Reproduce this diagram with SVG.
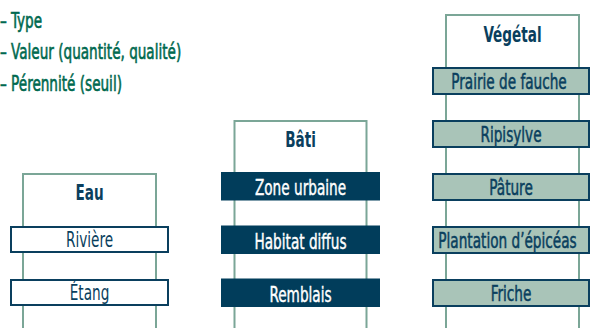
<svg xmlns="http://www.w3.org/2000/svg" width="591" height="328" viewBox="0 0 591 328">
<style>
.col{fill:#ffffff;stroke:#7ba697;stroke-width:2}
.title{font-family:"DejaVu Sans Condensed","DejaVu Sans","Liberation Sans",sans-serif;font-weight:bold;font-size:21px;fill:#0a3f5e;text-anchor:middle}
.lbl{font-family:"DejaVu Sans Condensed","DejaVu Sans","Liberation Sans",sans-serif;font-size:20.5px;text-anchor:middle}
.white{fill:#ffffff;stroke:#0a3f5e;stroke-width:2}
.dark{fill:#013d5b}
.light{fill:#a9c4b8;stroke:#0a3f5e;stroke-width:2}
.tw{fill:#0a3f5e}
.heavy{stroke:#0a3f5e;stroke-width:0.5}
.td{fill:#ffffff;stroke:#ffffff;stroke-width:0.4}
.leg{font-family:"DejaVu Sans Condensed","DejaVu Sans","Liberation Sans",sans-serif;font-size:21px;fill:#00694f;stroke:#00694f;stroke-width:0.6}
</style>
<g id="legend">
<text class="leg" transform="matrix(0.72 0 0 1 0 27.5)">– Type</text>
<text class="leg" transform="matrix(0.72 0 0 1 0 59)">– Valeur (quantité, qualité)</text>
<text class="leg" transform="matrix(0.72 0 0 1 0 90.5)">– Pérennité (seuil)</text>
</g>
<g id="connectors"></g>
<g id="eau">
<path class="col" d="M23,328 V174 H156 V328"/>
<text class="title" transform="matrix(0.72 0 0 1 89.5 199.5)">Eau</text>
</g>
<g id="eau-riviere">
<rect class="white" x="11" y="227" width="157" height="25"/>
<text class="lbl tw" transform="matrix(0.74 0 0 1 89.5 247)">Rivière</text>
</g>
<g id="eau-etang">
<rect class="white" x="11" y="280" width="157" height="25"/>
<text class="lbl tw" transform="matrix(0.74 0 0 1 89.5 300)">Étang</text>
</g>
<g id="bati">
<path class="col" d="M234.5,328 V121 H366.5 V328"/>
<text class="title" transform="matrix(0.72 0 0 1 300.5 147)">Bâti</text>
</g>
<g id="bati-zone">
<rect class="dark" x="221" y="172" width="159" height="28.5"/>
<text class="lbl td" transform="matrix(0.74 0 0 1 300.5 195)">Zone urbaine</text>
</g>
<g id="bati-habitat">
<rect class="dark" x="221" y="225.5" width="159" height="28.5"/>
<text class="lbl td" transform="matrix(0.74 0 0 1 300.5 248.5)">Habitat diffus</text>
</g>
<g id="bati-remblais">
<rect class="dark" x="221" y="278.5" width="159" height="28.5"/>
<text class="lbl td" transform="matrix(0.74 0 0 1 300.5 301.5)">Remblais</text>
</g>
<g id="vegetal">
<path class="col" d="M446,328 V15 H579 V328"/>
<text class="title" transform="matrix(0.72 0 0 1 512.5 42)">Végétal</text>
</g>
<g id="veg-prairie">
<rect class="light" x="433" y="68" width="156" height="26"/>
<text class="lbl tw heavy" transform="matrix(0.74 0 0 1 509 89)">Prairie de fauche</text>
</g>
<g id="veg-ripisylve">
<rect class="light" x="433" y="121" width="156" height="26"/>
<text class="lbl tw heavy" transform="matrix(0.74 0 0 1 511 142)">Ripisylve</text>
</g>
<g id="veg-pature">
<rect class="light" x="433" y="174" width="156" height="26"/>
<text class="lbl tw heavy" transform="matrix(0.74 0 0 1 511 195)">Pâture</text>
</g>
<g id="veg-plantation">
<rect class="light" x="433" y="227" width="156" height="26"/>
<text class="lbl tw heavy" transform="matrix(0.74 0 0 1 507.5 248)">Plantation d’épicéas</text>
</g>
<g id="veg-friche">
<rect class="light" x="433" y="280" width="156" height="26"/>
<text class="lbl tw heavy" transform="matrix(0.74 0 0 1 511 301)">Friche</text>
</g>
</svg>
